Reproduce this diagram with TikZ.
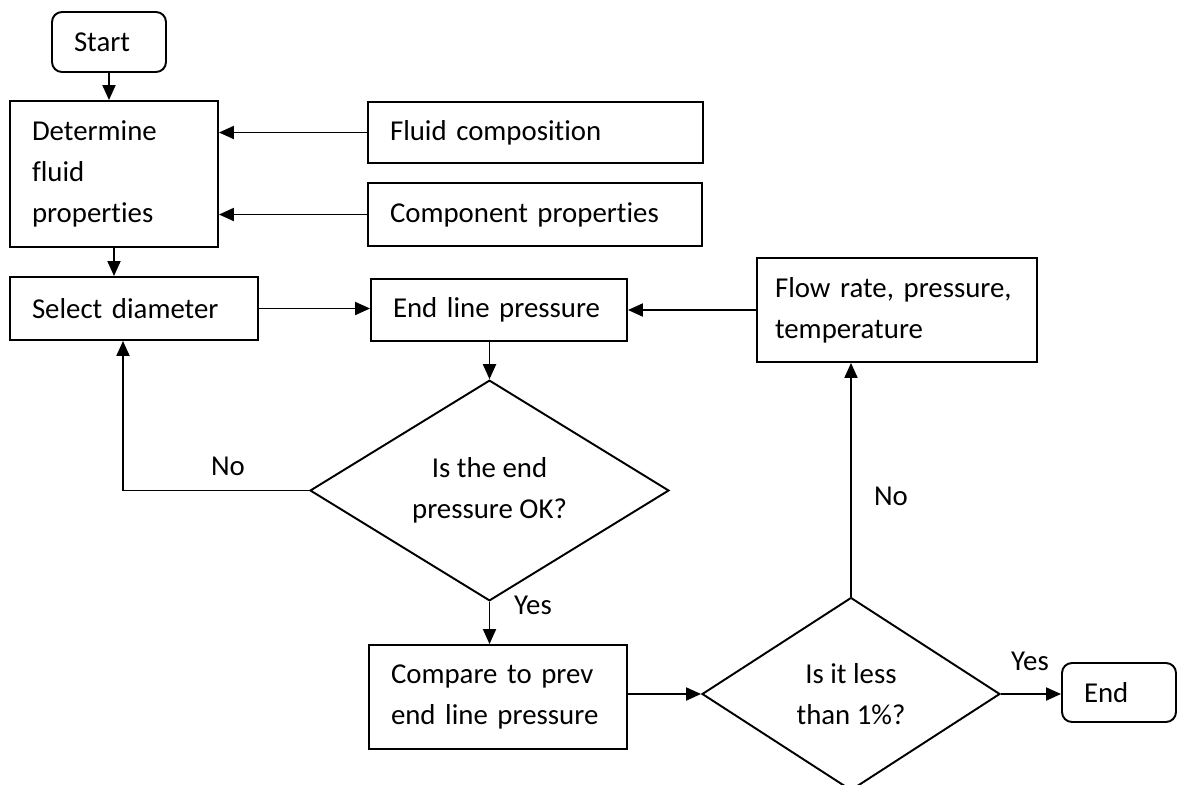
\documentclass[tikz,border=0pt]{standalone}
\usepackage{fontspec}
\setmainfont{Carlito}[Ligatures=NoCommon]
\usepackage{tikz}
\usetikzlibrary{shapes.geometric,arrows.meta}
\tikzstyle{node_box} = [rectangle, draw, line width=1.1pt, inner xsep=0.44cm, inner ysep=0pt, align=left]
\tikzstyle{node_round} = [node_box, rounded corners=0.2cm]
\tikzstyle{node_decision} = [diamond, draw, line width=1.1pt, inner sep=0pt, align=center]
\tikzstyle{node_label} = [inner sep=0pt]
\tikzstyle{edge_arrow} = [line width=1.1pt, -{Triangle[length=0.3cm, width=0.26cm]}]

\begin{document}
\begin{tikzpicture}[x=0.02cm, y=-0.02cm, every node/.style={font=\fontsize{16.4}{23.5}\selectfont}]
			\useasboundingbox (0,0) rectangle (1178,785);
			\node (Start) at (109,42) [node_round, text width=1.40cm, minimum height=1.20cm] {Start};
			\node (Det) at (114,174) [node_box, text width=3.28cm, minimum height=2.92cm] {Determine\\fluid\\properties};
			\node (Comp) at (535.5,132.5) [node_box, text width=5.82cm, minimum height=1.22cm] {Fluid composition};
			\node (Prop) at (535,214.5) [node_box, text width=5.80cm, minimum height=1.26cm] {Component properties};
			\node (Diam) at (134,308.5) [node_box, text width=4.08cm, minimum height=1.26cm] {Select diameter};
			\node (Line) at (499,310) [node_box, text width=4.24cm, minimum height=1.24cm] {End line pressure};
			\node (Flow) at (897,310) [node_box, inner xsep=0.36cm, text width=4.88cm, minimum height=2.08cm] {Flow rate, pressure,\\temperature};
			\node (Ok) at (489.5,490.5) [node_decision, minimum width=7.18cm, minimum height=3.66cm] {Is the end\\pressure OK?};
			\node (Prev) at (498,697) [node_box, text width=4.28cm, minimum height=2.08cm] {Compare to prev\\end line pressure};
			\node (Less) at (851,694) [node_decision, minimum width=5.96cm, minimum height=3.86cm] {Is it less\\than 1\%?};
			\node (End) at (1119,692.5) [node_round, text width=1.40cm, minimum height=1.18cm] {End};
			\node (No1) at (228,466) [node_label] {No};
			\node (Yes1) at (533,605) [node_label] {Yes};
			\node (No2) at (891,496) [node_label] {No};
			\node (Yes2) at (1030,661) [node_label] {Yes};
			\draw[edge_arrow] (Start.south) -- (Start.south |- Det.north);
			\draw[edge_arrow] (Comp.west) -- (Comp.west -| Det.east);
			\draw[edge_arrow] (Prop.west) -- (Prop.west -| Det.east);
			\draw[edge_arrow] (Det.south) -- (Det.south |- Diam.north);
			\draw[edge_arrow] (Diam.east) -- (Diam.east -| Line.west);
			\draw[edge_arrow] (Flow.west) -- (Flow.west -| Line.east);
			\draw[edge_arrow] (Ok.north |- Line.south) -- (Ok.north);
			\draw[edge_arrow] (Ok.west) -| ([xshift=-0.22cm]Diam.south);
			\draw[edge_arrow] (Ok.south) -- (Ok.south |- Prev.north);
			\draw[edge_arrow] (Less.west -| Prev.east) -- (Less.west);
			\draw[edge_arrow] (Less.north) -- (Less.north |- Flow.south);
			\draw[edge_arrow] (Less.east) -- (Less.east -| End.west);
		\end{tikzpicture}
\end{document}
